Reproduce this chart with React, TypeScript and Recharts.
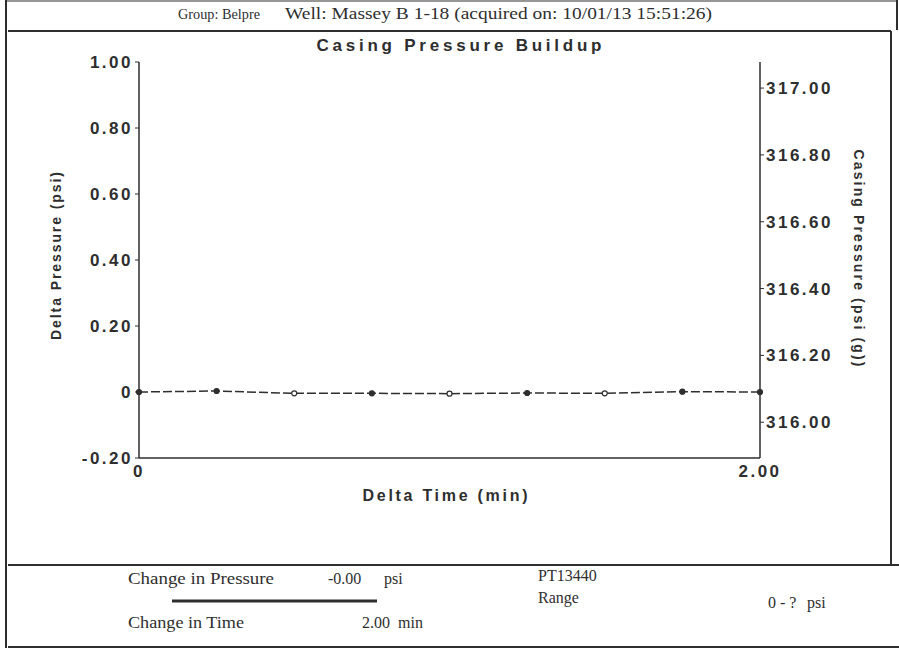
import React from 'react';
import { LineChart, Line, XAxis, YAxis } from 'recharts';

const deltaTime = [0, 0.25, 0.5, 0.75, 1.0, 1.25, 1.5, 1.75, 2.0];
const deltaPressure = [0, 0.003, -0.004, -0.004, -0.005, -0.003, -0.004, 0.001, 0];
const casingPressure = [316.09, 316.093, 316.086, 316.086, 316.085, 316.087, 316.086, 316.091, 316.09];
const leftTicks = [-0.2, 0, 0.2, 0.4, 0.6, 0.8, 1.0];
const rightTicks = [316.0, 316.2, 316.4, 316.6, 316.8, 317.0];
const xTicks = [0, 2];

const headerGroup = 'Group: Belpre';
const headerWell = 'Well: Massey B 1-18 (acquired on: 10/01/13 15:51:26)';
const chartTitle = 'Casing Pressure Buildup';

const data = deltaTime.map((t, i) => ({ t, dp: deltaPressure[i], cp: casingPressure[i] }));

const INK = '#2e2e2e';
const SANS = 'Arial, "Liberation Sans", sans-serif';
const SERIF = '"Liberation Serif", "Times New Roman", serif';
const tickStyle = { fontFamily: SANS, fontWeight: 700, fontSize: 17, fill: INK, letterSpacing: 2.5 };

const Dot = (props: any) => {
  const { cx, cy, index } = props;
  if (cx == null || cy == null) return null;
  const last = deltaTime.length - 1;
  const filled = index % 2 === 1 || index === 0 || index === last;
  return (
    <circle key={`d${index}`} cx={cx} cy={cy} r={2.5} stroke={INK} strokeWidth={1.2} fill={filled ? INK : '#fff'} />
  );
};

export default function App() {
  return (
    <div style={{ position: 'absolute', left: 0, top: 0, width: 899, height: 653, background: '#fff' }}>
      <LineChart width={899} height={653} data={data} margin={{ top: 62, right: 0, bottom: 165, left: 0 }}>
        <XAxis
          dataKey="t"
          type="number"
          domain={[0, 2]}
          ticks={xTicks}
          tickFormatter={(v: number) => (v === 0 ? '0' : v.toFixed(2))}
          tick={tickStyle}
          tickSize={0}
          tickMargin={7}
          height={30}
          axisLine={{ stroke: INK, strokeWidth: 1.5 }}
          label={{
            content: () => (
              <text x={445} y={501} textAnchor="middle" textLength={165} lengthAdjust="spacing"
                style={{ fontFamily: SANS, fontWeight: 700, fontSize: 16, fill: INK }}>
                Delta Time (min)
              </text>
            ),
          }}
        />
        <YAxis
          yAxisId="left"
          domain={[-0.2, 1.0]}
          ticks={leftTicks}
          tickFormatter={(v: number) => (v === 0 ? '0' : v.toFixed(2))}
          tick={tickStyle}
          tickSize={4}
          tickLine={{ stroke: INK }}
          width={139}
          axisLine={{ stroke: INK, strokeWidth: 1.5 }}
          label={{
            content: () => (
              <text x={0} y={0} transform="translate(61,256) rotate(-90)" textAnchor="middle" textLength={168} lengthAdjust="spacing"
                style={{ fontFamily: SANS, fontWeight: 700, fontSize: 14, fill: INK }}>
                Delta Pressure (psi)
              </text>
            ),
          }}
        />
        <YAxis
          yAxisId="right"
          orientation="right"
          domain={[315.893, 317.078]}
          ticks={rightTicks}
          tickFormatter={(v: number) => v.toFixed(2)}
          tick={tickStyle}
          tickSize={4}
          tickLine={{ stroke: INK }}
          width={139}
          axisLine={{ stroke: INK, strokeWidth: 1.5 }}
          label={{
            content: () => (
              <text x={0} y={0} transform="translate(854,258) rotate(90)" textAnchor="middle" textLength={217} lengthAdjust="spacing"
                style={{ fontFamily: SANS, fontWeight: 700, fontSize: 14, fill: INK }}>
                Casing Pressure (psi (g))
              </text>
            ),
          }}
        />
        <Line
          yAxisId="right"
          dataKey="cp"
          stroke="none"
          dot={false}
          isAnimationActive={false}
        />
        <Line
          yAxisId="left"
          dataKey="dp"
          stroke={INK}
          strokeWidth={1.5}
          strokeDasharray="9 3"
          dot={<Dot />}
          isAnimationActive={false}
        />
      </LineChart>
      <svg width={899} height={653} style={{ position: 'absolute', left: 0, top: 0, pointerEvents: 'none' }}>
        <g stroke={INK} fill="none">
          <line x1={6} y1={0} x2={6} y2={648} strokeWidth={2} />
          <line x1={6} y1={1} x2={897} y2={1} strokeWidth={1} />
          <line x1={897} y1={0} x2={897} y2={30} strokeWidth={2} />
          <line x1={8} y1={31} x2={891} y2={31} strokeWidth={2} />
          <line x1={891} y1={31} x2={891} y2={565} strokeWidth={2} />
          <line x1={8} y1={565} x2={899} y2={565} strokeWidth={2} />
          <line x1={8} y1={647} x2={899} y2={647} strokeWidth={2} />
          <line x1={172} y1={601} x2={377} y2={601} strokeWidth={3} />
        </g>
        <g style={{ fontFamily: SERIF, fontSize: 16, fill: INK }}>
          <text x={178} y={19} fontSize={14} textLength={82} lengthAdjust="spacingAndGlyphs">{headerGroup}</text>
          <text x={285} y={19} textLength={427} lengthAdjust="spacingAndGlyphs">{headerWell}</text>
          <text x={128} y={584} textLength={146} lengthAdjust="spacingAndGlyphs">Change in Pressure</text>
          <text x={328} y={584}>-0.00</text>
          <text x={384} y={584}>psi</text>
          <text x={538} y={581}>PT13440</text>
          <text x={538} y={603}>Range</text>
          <text x={768} y={608}>0 - ?</text>
          <text x={807} y={608}>psi</text>
          <text x={128} y={628} textLength={116} lengthAdjust="spacingAndGlyphs">Change in Time</text>
          <text x={362} y={628}>2.00</text>
          <text x={398} y={628}>min</text>
        </g>
        <text x={459} y={51} textAnchor="middle" textLength={285} lengthAdjust="spacing"
          style={{ fontFamily: SANS, fontWeight: 700, fontSize: 17, fill: INK }}>
          {chartTitle}
        </text>
      </svg>
    </div>
  );
}
